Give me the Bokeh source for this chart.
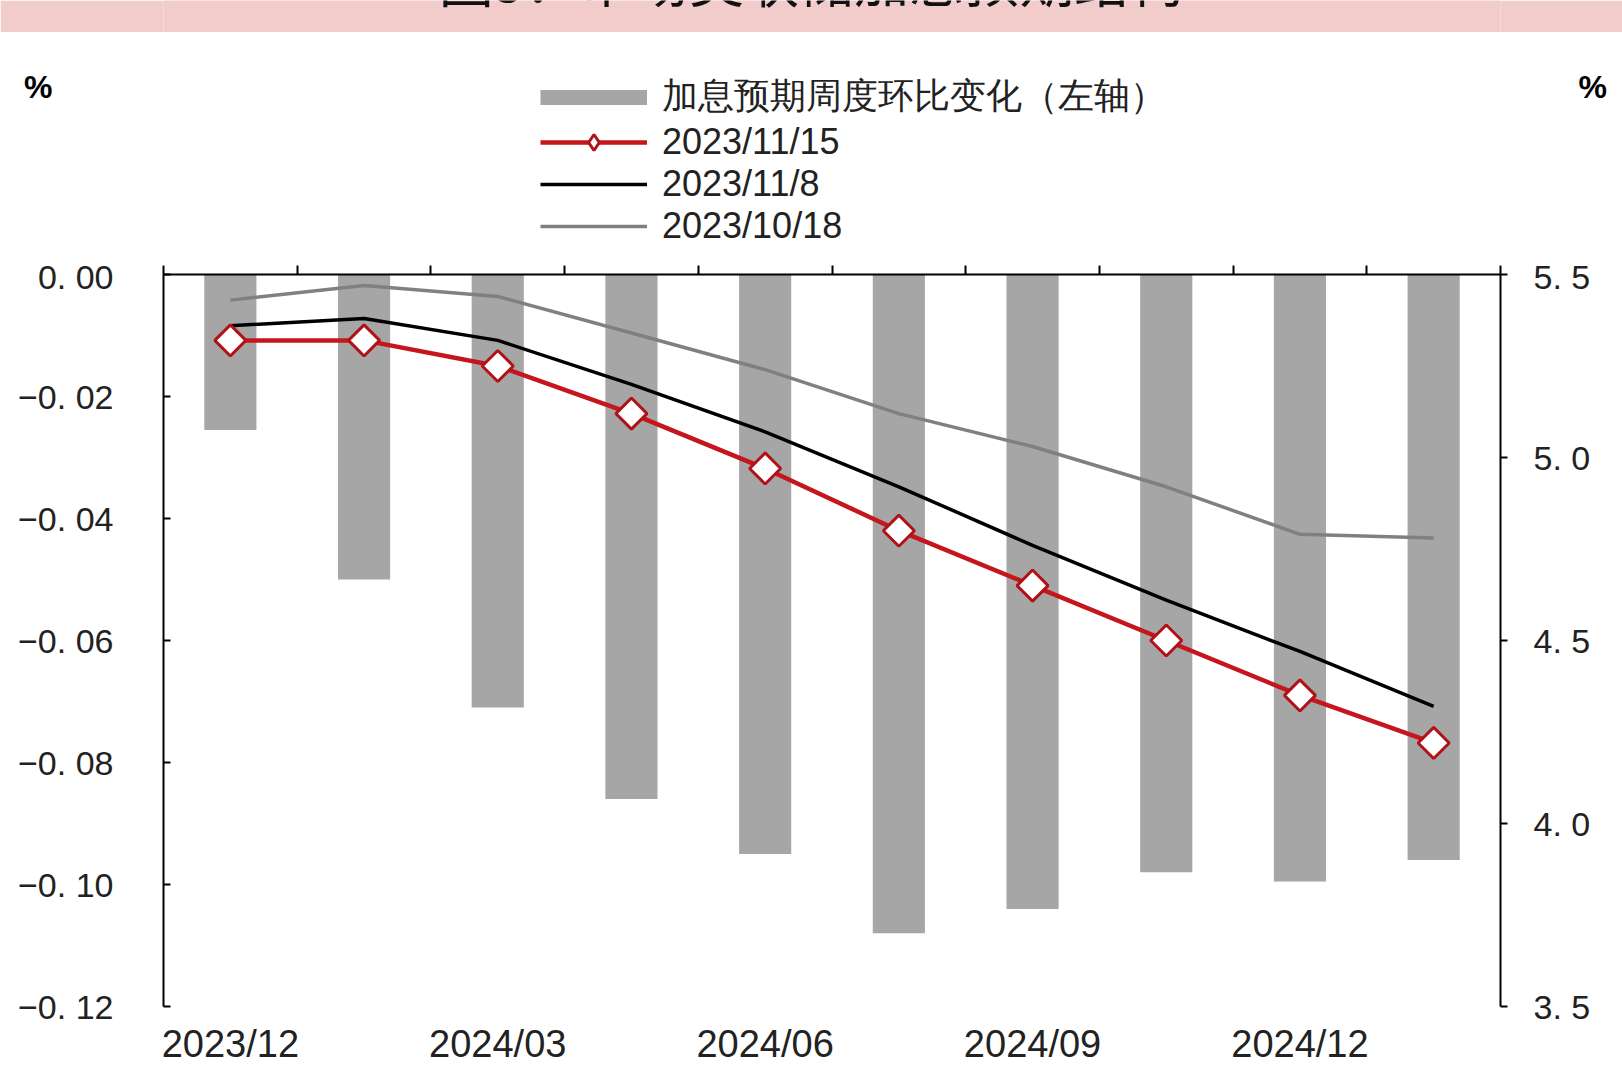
import math
import numpy as np
from bokeh.plotting import figure
from bokeh.models import Range1d, LinearAxis, FixedTicker, Legend, LegendItem, Label
from bokeh.layouts import column
from bokeh.embed import file_html
from bokeh.resources import INLINE

# ---------------- data ----------------
categories = ["2023/12", "2024/01", "2024/03", "2024/05", "2024/06",
              "2024/07", "2024/09", "2024/11", "2024/12", "2025/01"]
weekly_change = [-0.0255, -0.050, -0.071, -0.086, -0.095,
                 -0.108, -0.104, -0.098, -0.0995, -0.096]
rate_1115 = [5.32, 5.32, 5.25, 5.12, 4.97, 4.80, 4.65, 4.50, 4.35, 4.22]
rate_1108 = [5.36, 5.38, 5.32, 5.20, 5.07, 4.92, 4.76, 4.61, 4.47, 4.32]
rate_1018 = [5.43, 5.47, 5.44, 5.34, 5.24, 5.12, 5.03, 4.92, 4.79, 4.78]

left_ticks = [0, -0.02, -0.04, -0.06, -0.08, -0.1, -0.12]
left_tick_labels = ["0. 00", "\u22120. 02", "\u22120. 04", "\u22120. 06",
                    "\u22120. 08", "\u22120. 10", "\u22120. 12"]
right_ticks = [5.5, 5, 4.5, 4, 3.5]
right_tick_labels = ["5. 5", "5. 0", "4. 5", "4. 0", "3. 5"]

title_text = "图5：市场美联储加息预期结构"
legend_labels = ["加息预期周度环比变化（左轴）", "2023/11/15", "2023/11/8", "2023/10/18"]
unit_text = "%"

# ---------------- styles ----------------
BAR = "#A6A6A6"
RED = "#C4161C"
DARKRED = "#B01218"
GRAY_LINE = "#808080"
PINK = "#F2CBCB"
NUM_FONT = "Liberation Sans"
CJK_FONT = "Noto Sans CJK SC"

W = 1622
BAND_H = 32
HEAD_H = 225
MAIN_H = 1068 - BAND_H - HEAD_H
B_LEFT, B_RIGHT = 163, 122
FRAME_W = W - B_LEFT - B_RIGHT
MAIN_TOP, MAIN_BOTTOM = 17, 62

xs = [i + 0.5 for i in range(len(categories))]
NO_POINT = np.array([np.nan])


def bare_figure(height, fill):
    f = figure(width=W, height=height, x_range=Range1d(0, FRAME_W), y_range=Range1d(0, height),
               x_axis_location=None, y_axis_location=None, output_backend="svg",
               toolbar_location=None, min_border_left=B_LEFT, min_border_right=B_RIGHT,
               min_border_top=0, min_border_bottom=0, outline_line_color=None,
               background_fill_color=fill, border_fill_color=fill)
    f.grid.visible = False
    return f


# ---------------- title band (text cut by the top edge, as in the original) ----------------
band = bare_figure(BAND_H, PINK)
band.add_layout(Label(x=W / 2 - B_LEFT, y=BAND_H - 17, text=title_text,
                      text_font=CJK_FONT, text_font_size="55px", text_color="#111111",
                      text_align="center", text_baseline="bottom"))

# ---------------- header: legend and unit marks ----------------
head = bare_figure(HEAD_H, "white")
UNIT_Y = HEAD_H - 54
for side, standoff in (("left", 105), ("right", 72)):
    unit_axis = LinearAxis(ticker=FixedTicker(ticks=[UNIT_Y]),
                           major_label_overrides={UNIT_Y: unit_text},
                           axis_line_color=None, major_tick_line_color=None,
                           minor_tick_line_color=None, major_label_standoff=standoff,
                           major_label_text_font=NUM_FONT, major_label_text_font_style="bold",
                           major_label_text_font_size="32px", major_label_text_color="#000000")
    head.add_layout(unit_axis, side)

# ---------------- main chart ----------------
p = figure(width=W, height=MAIN_H, x_range=Range1d(0, len(categories)),
           y_range=Range1d(-0.12, 0), output_backend="svg", toolbar_location=None,
           x_axis_location=None, y_axis_location=None,
           min_border_left=B_LEFT, min_border_right=B_RIGHT, min_border_top=MAIN_TOP,
           min_border_bottom=MAIN_BOTTOM,
           outline_line_color=None, background_fill_color="white")
p.grid.visible = False
p.extra_y_ranges = {"rate": Range1d(3.5, 5.5)}

bars = p.vbar(x=xs, top=0, bottom=weekly_change, width=0.39, fill_color=BAR, line_color=None)

gray_r = p.line(xs, rate_1018, line_color=GRAY_LINE, line_width=3.5, y_range_name="rate")
black_r = p.line(xs, rate_1108, line_color="#000000", line_width=3.5, y_range_name="rate")
red_r = p.line(xs, rate_1115, line_color=RED, line_width=4.5, y_range_name="rate")
red_m = p.scatter(xs, rate_1115, marker="square", angle=math.pi / 4, size=22,
                  fill_color="white", line_color=DARKRED, line_width=3, y_range_name="rate")

# left axis
left = LinearAxis(ticker=FixedTicker(ticks=left_ticks),
                  major_label_overrides={t: s for t, s in zip(left_ticks, left_tick_labels)},
                  major_tick_in=7, major_tick_out=0, minor_tick_line_color=None,
                  axis_line_width=2, major_tick_line_width=2, major_label_standoff=50,
                  major_label_text_font=NUM_FONT, major_label_text_font_size="34px",
                  major_label_text_color="#222222")
p.add_layout(left, "left")

# right axis
right = LinearAxis(y_range_name="rate", ticker=FixedTicker(ticks=right_ticks),
                   major_label_overrides={t: s for t, s in zip(right_ticks, right_tick_labels)},
                   major_tick_in=0, major_tick_out=7, minor_tick_line_color=None,
                   axis_line_width=2, major_tick_line_width=2, major_label_standoff=26,
                   major_label_text_font=NUM_FONT, major_label_text_font_size="34px",
                   major_label_text_color="#222222")
p.add_layout(right, "right")

# top axis line at y = 0 with category boundary ticks (no labels)
top = LinearAxis(ticker=FixedTicker(ticks=list(range(len(categories) + 1))),
                 major_tick_in=0, major_tick_out=9, minor_tick_line_color=None,
                 axis_line_width=2, major_tick_line_width=2, major_label_standoff=0,
                 major_label_text_font_size="1px", major_label_text_color=None)
p.add_layout(top, "above")

# bottom category labels (every other meeting)
label_ticks = xs[::2]
bottom = LinearAxis(ticker=FixedTicker(ticks=label_ticks),
                    major_label_overrides={t: c for t, c in zip(label_ticks, categories[::2])},
                    axis_line_color=None, major_tick_line_color=None, minor_tick_line_color=None,
                    major_label_standoff=10, major_label_text_font=NUM_FONT,
                    major_label_text_font_size="38px", major_label_text_color="#222222")
p.add_layout(bottom, "below")

# legend lives in the header figure; its glyphs mirror the main chart's renderers
bar_proxy = head.line(x=NO_POINT, y=NO_POINT, line_color=BAR, line_width=15)
h_red = head.line(x=NO_POINT, y=NO_POINT, line_color=RED, line_width=4.5)
h_red_m = head.scatter(x=NO_POINT, y=NO_POINT, marker="diamond", size=22,
                       fill_color="white", line_color=DARKRED, line_width=3)
h_black = head.line(x=NO_POINT, y=NO_POINT, line_color="#000000", line_width=3.5)
h_gray = head.line(x=NO_POINT, y=NO_POINT, line_color=GRAY_LINE, line_width=3.5)

legend = Legend(items=[LegendItem(label=legend_labels[0], renderers=[bar_proxy]),
                       LegendItem(label=legend_labels[1], renderers=[h_red, h_red_m]),
                       LegendItem(label=legend_labels[2], renderers=[h_black]),
                       LegendItem(label=legend_labels[3], renderers=[h_gray])],
                location=(377, 10), orientation="vertical",
                glyph_width=107, glyph_height=40, label_height=40, spacing=0,
                padding=0, margin=0, label_standoff=15, border_line_color=None,
                background_fill_alpha=0, label_text_font=NUM_FONT,
                label_text_font_size="36px", label_text_color="#222222")
head.add_layout(legend)

layout = column(band, head, p, spacing=0)
open("out.html", "w").write(file_html(layout, INLINE))
